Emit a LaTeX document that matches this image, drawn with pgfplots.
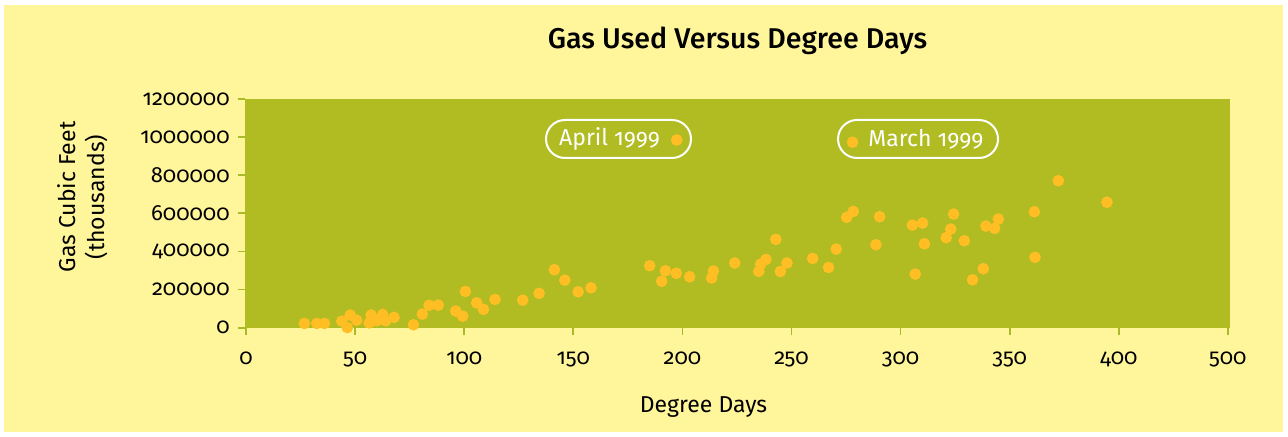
\documentclass[border=0pt]{standalone}
\usepackage{pgfplots}
\pgfplotsset{compat=1.18}
\usepackage{fontspec}
\setmainfont{Fira Sans}[Numbers=OldStyle]
\newfontfamily\titlefont{Fira Sans Medium}
\definecolor{bgyellow}{HTML}{FFF69C}
\definecolor{plotbg}{HTML}{B0BC22}
\definecolor{dot}{HTML}{FFBF24}
\definecolor{tickgreen}{HTML}{AABB2A}
\begin{document}
\begin{tikzpicture}
\fill[white] (0pt,0pt) rectangle (644pt,218.5pt);
\fill[bgyellow] (2pt,2.5pt) rectangle (641.5pt,216pt);
\begin{axis}[
  at={(122.5pt,54.5pt)}, anchor=south west,
  scale only axis, width=492.5pt, height=114.5pt,
  xmin=-0.5, xmax=451, ymin=-2000, ymax=1200000,
  axis background/.style={fill=plotbg},
  axis line style={draw=none},
  tick align=outside,
  major tick length=3.5pt,
  tick style={draw=tickgreen, line width=0.9pt},
  scaled y ticks=false, scaled x ticks=false,
  xtick={0,50,...,450},
  xticklabels={0,50,100,150,200,250,300,350,400,500},
  ytick={0,200000,400000,600000,800000,1000000,1200000},
  yticklabels={0,200000,400000,600000,800000,1000000,1200000},
  xtick pos=bottom, ytick pos=left,
  /pgf/number format/assume math mode=true,
  ticklabel style={font=\fontsize{11}{13}\selectfont},
  xticklabel style={anchor=base, yshift=-15pt, inner sep=0pt},
  yticklabel style={anchor=east, inner sep=0pt, xshift=-4pt},
  title={\titlefont Gas Used Versus Degree Days},
  title style={at={(axis description cs:0.5,1.170)}, anchor=base, font=\fontsize{14.3}{16}\selectfont},
  xlabel={Degree Days},
  xlabel style={at={(axis description cs:0.4655,-0.371)}, anchor=base, font=\fontsize{11.5}{13}\selectfont},
  ylabel={Gas Cubic Feet\\(thousands)},
  ylabel style={at={(axis description cs:-0.1645,0.572)}, anchor=center, align=center, font=\fontsize{11.5}{14.5}\selectfont},
  clip=false,
]
\addplot[only marks, mark=*, mark size=2.7pt, mark options={draw=dot, fill=dot}] table {
x y
26.7 22000
32.4 22000
35.9 22000
43.9 34000
47.7 66000
46.4 0
50.7 39000
56.4 25000
57.3 66000
59.9 36000
62.6 69000
64.0 36000
67.8 54000
76.7 15000
80.8 71000
83.9 117000
88.1 118000
100.5 190000
96.1 87000
99.3 60000
105.7 130000
108.8 96000
114.1 148000
126.8 144000
134.3 180000
141.3 304000
146.1 249000
152.2 188000
158.1 209000
185.0 325000
192.2 298000
190.5 243000
197.2 285000
203.3 267000
214.2 297000
213.4 260000
224.0 339000
235.0 295000
235.9 333000
238.3 358000
242.8 463000
247.9 339000
244.9 295000
259.7 363000
267.0 316000
270.5 412000
275.3 579000
278.3 610000
290.4 582000
288.7 435000
305.4 538000
310.1 549000
310.9 440000
306.7 281000
324.3 596000
323.0 517000
320.9 472000
329.2 456000
339.1 533000
344.8 570000
343.1 521000
337.9 309000
333.0 251000
361.3 608000
361.6 369000
372.3 771000
394.6 658000
197.4 985000
278.0 973000
};
\node[draw=white, line width=1pt, rounded corners=9.5pt, minimum width=72.5pt, minimum height=19pt] at (axis cs:170.7,990000) {};
\node[text=white, font=\fontsize{11.5}{13}\selectfont] at (axis cs:166.6,990000) {April 1999};
\node[draw=white, line width=1pt, rounded corners=9.5pt, minimum width=80pt, minimum height=19pt] at (axis cs:308,990000) {};
\node[text=white, font=\fontsize{11.5}{13}\selectfont] at (axis cs:311.6,990000) {March 1999};
\end{axis}
\end{tikzpicture}
\end{document}
